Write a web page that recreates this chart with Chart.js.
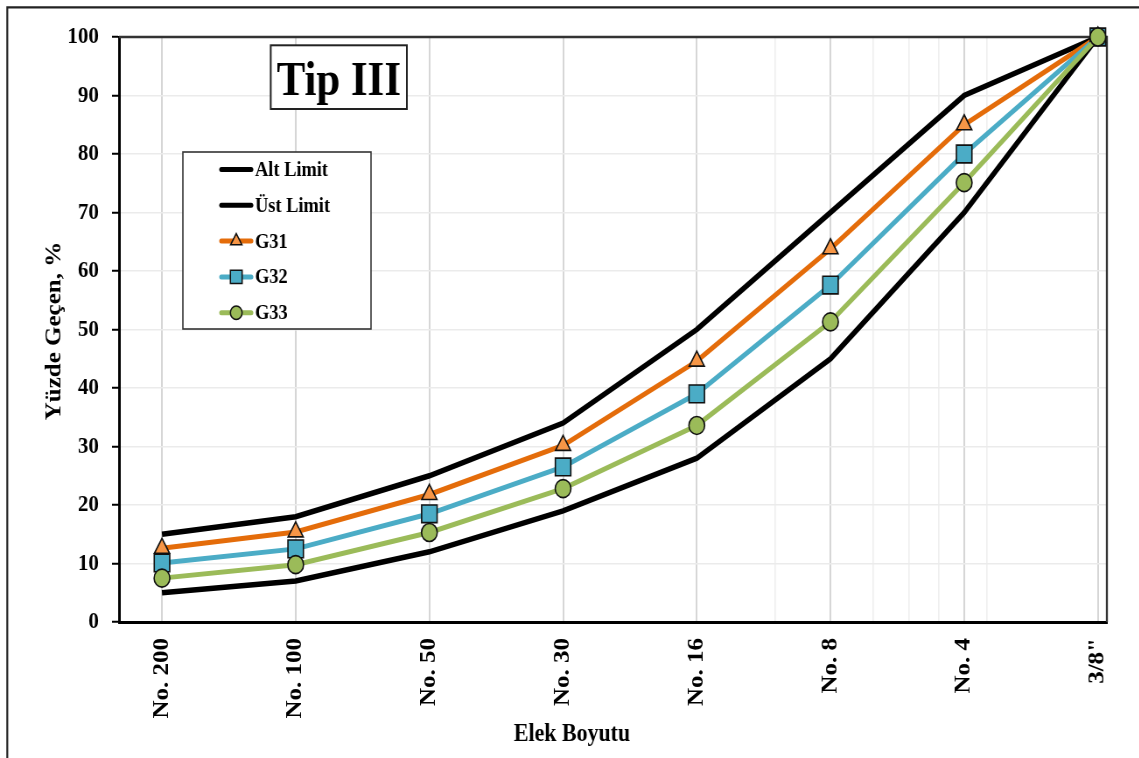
<!DOCTYPE html>
<html><head><meta charset="utf-8">
<script src="https://cdn.jsdelivr.net/npm/chart.js@4.4.1/dist/chart.umd.min.js"></script>
<style>
html,body{margin:0;padding:0;background:#fff;}
#wrap{width:1139px;height:758px;overflow:hidden;position:relative;background:#fff;}
#c{transform:scaleX(0.875);transform-origin:0 0;display:block;width:1302px;height:758px;}
</style></head><body>
<div id="wrap"><canvas id="c" width="1302" height="758"></canvas></div>
<script>
// ---- data ----
const categories = ['No. 200','No. 100','No. 50','No. 30','No. 16','No. 8','No. 4','3/8"'];
const altLimit = [5, 7, 12, 19, 28, 45, 70, 100];
const ustLimit = [15, 18, 25, 34, 50, 70, 90, 100];
const g31 = [12.6, 15.4, 21.8, 30.2, 44.6, 63.8, 85.0, 100];
const g32 = [10.1, 12.5, 18.5, 26.5, 39.0, 57.6, 80.0, 100];
const g33 = [7.5, 9.8, 15.3, 22.8, 33.6, 51.3, 75.1, 100];
const yTicks = [0,10,20,30,40,50,60,70,80,90,100];
const minorGrid = [3,5,6,7,9];
const seriesNames = ['Alt Limit','Üst Limit','G31','G32','G33'];
const chartTitle = 'Tip III';
const xTitle = 'Elek Boyutu';
const yTitle = 'Yüzde Geçen, %';

const FONT = "'Liberation Serif','Times New Roman',serif";
const X_MIN = -0.3214, X_MAX = 7.0674;

function pts(arr){ return categories.map((c,i)=>({x:i, y:arr[i]})); }

function drawMarker(ctx, style, x, y, r, fill, stroke, bw){
  ctx.save();
  ctx.beginPath();
  if(style==='circle'){ ctx.arc(x,y,r,0,Math.PI*2); }
  else if(style==='rect'){ const s=r*Math.SQRT1_2; ctx.rect(x-s,y-s,2*s,2*s); }
  else if(style==='triangle'){
    const a=Math.PI/2; ctx.moveTo(x, y-r);
    ctx.lineTo(x + Math.cos(Math.PI/6)*r, y + r/2);
    ctx.lineTo(x - Math.cos(Math.PI/6)*r, y + r/2);
    ctx.closePath();
  }
  ctx.fillStyle=fill; ctx.fill();
  ctx.lineWidth=bw; ctx.strokeStyle=stroke; ctx.stroke();
  ctx.restore();
}

const decor = {
  id:'decor',
  beforeDraw(chart){
    const ctx=chart.ctx;
    ctx.save();
    ctx.fillStyle='#fff'; ctx.fillRect(0,0,chart.width,chart.height);
    ctx.strokeStyle='#222'; ctx.lineWidth=2.2;
    ctx.beginPath(); ctx.moveTo(8.3,chart.height); ctx.lineTo(8.3,7.3); ctx.lineTo(chart.width,7.3); ctx.stroke();
    ctx.restore();
  },
  beforeDatasetsDraw(chart){
    const {ctx, chartArea:a}=chart;
    ctx.save();
    ctx.strokeStyle='#333'; ctx.lineWidth=2.3;
    ctx.beginPath(); ctx.moveTo(a.left,a.top); ctx.lineTo(a.right,a.top); ctx.lineTo(a.right,a.bottom); ctx.stroke();
    ctx.restore();
  },
  afterDraw(chart){
    const ctx=chart.ctx;
    ctx.save();
    // title box
    ctx.fillStyle='#fff'; ctx.fillRect(309.4,45.3,155.6,63.7);
    ctx.strokeStyle='#222'; ctx.lineWidth=2; ctx.strokeRect(309.4,45.3,155.6,63.7);
    ctx.fillStyle='#000'; ctx.font="bold 49px "+FONT; ctx.textAlign='center'; ctx.textBaseline='alphabetic';
    ctx.fillText(chartTitle, 387.2, 95);
    // legend box
    const lx=209, ly=152, lw=215, lh=177;
    ctx.fillStyle='#fff'; ctx.fillRect(lx,ly,lw,lh);
    ctx.strokeStyle='#333'; ctx.lineWidth=1.6; ctx.strokeRect(lx,ly,lw,lh);
    const ds=chart.data.datasets;
    ds.forEach((d,i)=>{
      const cy=169.5+i*35.8;
      ctx.strokeStyle=d.borderColor; ctx.lineWidth=5; ctx.lineCap='round';
      ctx.beginPath(); ctx.moveTo(253,cy); ctx.lineTo(287,cy); ctx.stroke();
      if(d.legendRadius>0){
        drawMarker(ctx,d.pointStyle,270,cy,d.legendRadius,d.pointBackgroundColor,'#111',1.5);
      }
      ctx.fillStyle='#000'; ctx.font="bold 21px "+FONT; ctx.textAlign='left'; ctx.textBaseline='middle';
      ctx.fillText(d.label,291.4,cy+1);
    });
    // axis titles
    ctx.fillStyle='#000'; ctx.font="bold 25px "+FONT; ctx.textAlign='center'; ctx.textBaseline='alphabetic';
    ctx.fillText(xTitle, 653.7, 741);
    ctx.translate(68.6,331); ctx.rotate(-Math.PI/2);
    ctx.fillText(yTitle, 0, 0);
    ctx.restore();
  }
};

const datasets = [
  {label:seriesNames[0], data:pts(altLimit), borderColor:'#000', backgroundColor:'#000', borderWidth:5.5, pointRadius:0, order:4, legendRadius:0},
  {label:seriesNames[1], data:pts(ustLimit), borderColor:'#000', backgroundColor:'#000', borderWidth:5.5, pointRadius:0, order:3, legendRadius:0},
  {label:seriesNames[2], data:pts(g31), borderColor:'#E46C0A', pointStyle:'triangle', pointRadius:10, pointBackgroundColor:'#F79646', pointBorderColor:'#111', pointBorderWidth:1.6, borderWidth:5, order:2, legendRadius:7.5},
  {label:seriesNames[3], data:pts(g32), borderColor:'#4BACC6', pointStyle:'rect', pointRadius:12.5, pointBackgroundColor:'#4BACC6', pointBorderColor:'#111', pointBorderWidth:1.6, borderWidth:5, order:1, legendRadius:9.5},
  {label:seriesNames[4], data:pts(g33), borderColor:'#9BBB59', pointStyle:'circle', pointRadius:9, pointBackgroundColor:'#9BBB59', pointBorderColor:'#111', pointBorderWidth:1.6, borderWidth:5, order:0, legendRadius:6.7}
];
datasets.forEach(d=>{ d.tension=0; d.clip=false; d.fill=false; d.pointHoverRadius=d.pointRadius; });

new Chart(document.getElementById('c'), {
  type:'line',
  data:{ datasets },
  options:{
    responsive:false, animation:false, devicePixelRatio:1,
    layout:{ padding:{left:0, top:37, right:37, bottom:0} },
    plugins:{ legend:{display:false}, title:{display:false}, tooltip:{enabled:false} },
    scales:{
      x:{
        type:'linear', position:'bottom', min:X_MIN, max:X_MAX,
        afterBuildTicks:s=>{ s.ticks = categories.map((c,i)=>({value:i})); },
        ticks:{ autoSkip:false, minRotation:90, maxRotation:90, padding:16, color:'#000',
          font:{family:FONT, size:25, weight:'bold'}, callback:(v)=>categories[v] },
        grid:{ color:'#d6d6d6', lineWidth:2, drawTicks:false },
        border:{ color:'#000', width:3 },
        afterFit:s=>{ s.height=136; }
      },
      xm:{
        type:'logarithmic', position:'bottom',
        min:Math.pow(2, X_MIN-3), max:Math.pow(2, X_MAX-3),
        afterBuildTicks:s=>{ s.ticks = minorGrid.map(v=>({value:v})); },
        ticks:{ display:false },
        grid:{ color:'#efefef', lineWidth:1.6, drawTicks:false },
        border:{ display:false },
        afterFit:s=>{ s.height=0; }
      },
      y:{
        min:0, max:100,
        afterBuildTicks:s=>{ s.ticks = yTicks.map(v=>({value:v})); },
        ticks:{ padding:15, color:'#000', font:{family:FONT, size:24, weight:'bold'} },
        grid:{ color:'#ebebeb', lineWidth:1.5, tickColor:'#000', tickLength:8, tickWidth:2 },
        border:{ color:'#000', width:3 },
        afterFit:s=>{ s.width=136; }
      }
    }
  },
  plugins:[decor]
});
</script>
</body></html>
